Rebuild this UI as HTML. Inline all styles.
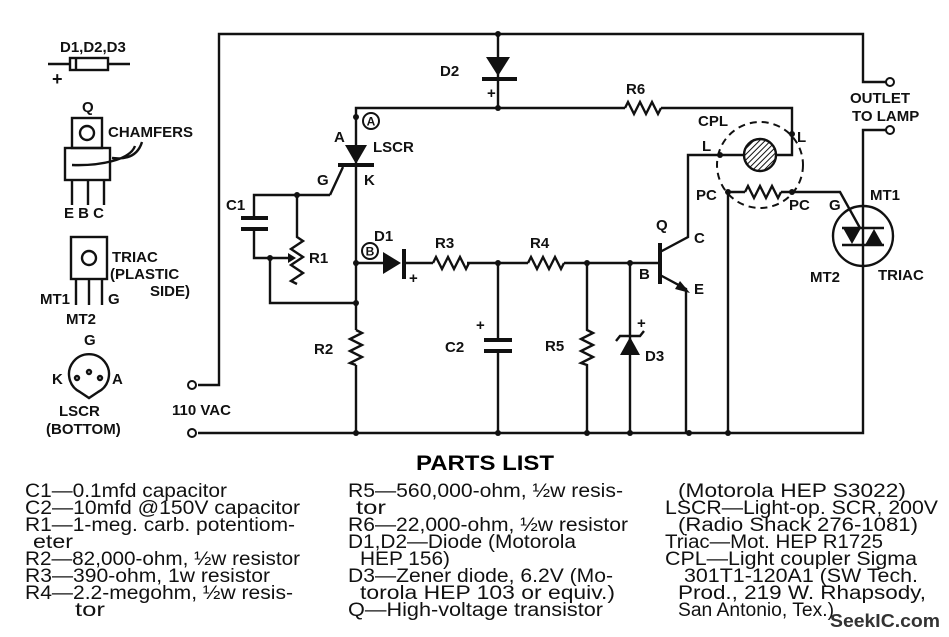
<!DOCTYPE html>
<html><head><meta charset="utf-8"><style>
html,body{margin:0;padding:0;background:#fff;}
svg{display:block;}
.w{fill:none;stroke:#111;stroke-width:2.4;stroke-linejoin:miter}
.l{font-family:"Liberation Sans",sans-serif;font-weight:bold;font-size:15px;fill:#111}
.p{font-family:"Liberation Sans",sans-serif;font-size:19px;fill:#111}
</style></head><body>
<svg width="949" height="637" viewBox="0 0 949 637" xmlns="http://www.w3.org/2000/svg">
<defs>
<pattern id="h" width="4" height="4" patternUnits="userSpaceOnUse" patternTransform="rotate(45)"><rect width="4" height="4" fill="#fff"/><line x1="0" y1="0" x2="0" y2="4" stroke="#111" stroke-width="2"/></pattern>
</defs>
<g class="w">
<path d="M198,385 H219 V34 H863 V82 H886"/>
<path d="M198,433 H863 V130 H886"/>
<path d="M498,34 V108"/>
<path d="M356,433 V365 M356,330 V108 H625 M661,108 H792 V155 H776"/>
<path d="M625,108 l3,-6 l6,12 l6,-12 l6,12 l6,-12 l6,12 l3,-6"/>
<path d="M330,195 L343,167 M330,195 H254 V218 M254,229 V258 H270 V303 H356"/>
<path d="M270,258 H288"/>
<path d="M297,195 V237 l6,4 l-12,8 l12,8 l-12,8 l12,8 l-12,8 l6,3"/>
<path d="M356,330 l6,3 l-12,6 l12,6 l-12,6 l12,6 l-12,6 l6,2"/>
<path d="M356,263 H383 M404,263 H433 M467,263 H528 M564,263 H660"/>
<path d="M433,263 l3,-6 l6,12 l6,-12 l6,12 l6,-12 l6,12 l3,-6"/>
<path d="M528,263 l3,-6 l6,12 l6,-12 l6,12 l6,-12 l6,12 l3,-6"/>
<path d="M498,263 V340 M498,351 V433"/>
<path d="M587,263 V330 l6,3 l-12,6 l12,6 l-12,6 l12,6 l-12,6 l6,2 V433"/>
<path d="M630,263 V433 M616,341 l4,-5 H640 l4,-5"/>
<path d="M660,252 L688,237 V155 H744 M660,275 L686,289 V433"/>
<path d="M728,433 V192 H745 M781,192 H840 L860,228"/>
<path d="M745,192 l3,-6 l6,12 l6,-12 l6,12 l6,-12 l6,12 l3,-6"/>
<circle cx="863" cy="236" r="30"/>
<path d="M842,228 H884 M842,245 H884"/>
</g>
<g fill="#111">
<polygon points="486,57 510,57 498,76"/>
<rect x="482" y="77" width="35" height="4"/>
<polygon points="345,145 367,145 356,164"/>
<rect x="338" y="163" width="36" height="4"/>
<polygon points="383,252 383,274 401,263"/>
<rect x="402" y="249" width="4" height="30"/>
<rect x="241" y="216" width="27" height="4"/>
<rect x="241" y="227" width="27" height="4"/>
<rect x="484" y="338" width="28" height="4"/>
<rect x="484" y="349" width="28" height="4"/>
<polygon points="620,355 640,355 630,337"/>
<rect x="658" y="243" width="4" height="41"/>
<polygon points="675,289 690,293 680,281"/>
<polygon points="288,253 288,263 296,258"/>
<polygon points="843,228 861,228 852,244"/>
<polygon points="865,245 883,245 874,229"/>
<circle cx="356" cy="117" r="3"/><circle cx="356" cy="263" r="3"/><circle cx="356" cy="303" r="3"/>
<circle cx="356" cy="433" r="3"/><circle cx="498" cy="108" r="3"/><circle cx="498" cy="34" r="3"/>
<circle cx="297" cy="195" r="3"/><circle cx="270" cy="258" r="3"/>
<circle cx="498" cy="263" r="3"/><circle cx="587" cy="263" r="3"/><circle cx="630" cy="263" r="3"/>
<circle cx="498" cy="433" r="3"/><circle cx="587" cy="433" r="3"/><circle cx="630" cy="433" r="3"/>
<circle cx="689" cy="433" r="3"/><circle cx="728" cy="433" r="3"/>
<circle cx="720" cy="155" r="3"/><circle cx="792" cy="134" r="3"/><circle cx="728" cy="192" r="3"/><circle cx="792" cy="192" r="3"/>
</g>
<g fill="#fff" stroke="#111" stroke-width="2">
<circle cx="192" cy="385" r="4"/><circle cx="192" cy="433" r="4"/>
<circle cx="890" cy="82" r="4"/><circle cx="890" cy="130" r="4"/>
<circle cx="760" cy="165" r="43" fill="none" stroke-dasharray="7,5"/>
<circle cx="760" cy="155" r="16" fill="url(#h)" stroke-width="2.4"/>
<circle cx="371" cy="121" r="8"/><circle cx="370" cy="251" r="8"/>
</g>
<g class="l">
<text x="371" y="125.5" font-size="12" text-anchor="middle">A</text>
<text x="370" y="255.5" font-size="12" text-anchor="middle">B</text>
<text x="440" y="76">D2</text><text x="487" y="98">+</text>
<text x="334" y="142">A</text><text x="373" y="152">LSCR</text>
<text x="317" y="185">G</text><text x="364" y="185">K</text>
<text x="226" y="210">C1</text><text x="309" y="263">R1</text>
<text x="314" y="354">R2</text>
<text x="374" y="241">D1</text><text x="409" y="283">+</text>
<text x="435" y="248">R3</text><text x="530" y="248">R4</text>
<text x="626" y="94">R6</text>
<text x="476" y="330">+</text><text x="445" y="352">C2</text>
<text x="545" y="351">R5</text><text x="637" y="328">+</text><text x="645" y="361">D3</text>
<text x="656" y="230">Q</text><text x="694" y="243">C</text><text x="639" y="279">B</text><text x="694" y="294">E</text>
<text x="698" y="126">CPL</text><text x="702" y="151">L</text><text x="797" y="142">L</text>
<text x="696" y="200">PC</text><text x="789" y="210">PC</text>
<text x="829" y="210">G</text><text x="870" y="200">MT1</text><text x="810" y="282">MT2</text><text x="878" y="280">TRIAC</text>
<text x="850" y="103">OUTLET</text><text x="852" y="121">TO LAMP</text>
<text x="172" y="415">110 VAC</text>
</g>
<g class="w" stroke-width="2">
<path d="M48,64 H70 M108,64 H130"/><rect x="70" y="58" width="38" height="12"/><path d="M76,58 V70"/>
<rect x="72" y="118" width="30" height="30"/><circle cx="87" cy="133" r="7"/>
<rect x="65" y="148" width="45" height="32"/>
<path d="M72,180 V205 M88,180 V205 M104,180 V205"/>
<path d="M142,142 C138,155 128,160 112,158 M135,146 C130,160 100,166 72,165"/>
<rect x="71" y="237" width="36" height="42"/><circle cx="89" cy="258" r="7"/>
<path d="M76,279 V305 M89,279 V305 M102,279 V305"/>
<path d="M80,392 A20,20 0 1 1 98,392 L89,398 Z"/><circle cx="89" cy="372" r="2"/><circle cx="77" cy="378" r="2"/><circle cx="100" cy="378" r="2"/>
</g>
<g class="l" font-size="16">
<text x="60" y="52">D1,D2,D3</text><text x="52" y="85" font-size="18">+</text>
<text x="82" y="112">Q</text><text x="108" y="137">CHAMFERS</text>
<text x="64" y="218">E B C</text>
<text x="112" y="262">TRIAC</text><text x="110" y="279">(PLASTIC</text><text x="150" y="296">SIDE)</text>
<text x="40" y="304">MT1</text><text x="108" y="304">G</text><text x="66" y="324">MT2</text>
<text x="84" y="345">G</text><text x="52" y="384">K</text><text x="112" y="384">A</text>
<text x="59" y="416">LSCR</text><text x="46" y="434">(BOTTOM)</text>
</g>
<text x="485" y="470" text-anchor="middle" font-family="Liberation Sans,sans-serif" font-weight="bold" font-size="21" textLength="138" lengthAdjust="spacingAndGlyphs">PARTS LIST</text>
<g class="p">
<text x="25" y="497" textLength="202" lengthAdjust="spacingAndGlyphs">C1—0.1mfd capacitor</text>
<text x="25" y="514" textLength="275" lengthAdjust="spacingAndGlyphs">C2—10mfd @150V capacitor</text>
<text x="25" y="531" textLength="270" lengthAdjust="spacingAndGlyphs">R1—1-meg. carb. potentiom-</text>
<text x="33" y="548" textLength="40" lengthAdjust="spacingAndGlyphs">eter</text>
<text x="25" y="565" textLength="275" lengthAdjust="spacingAndGlyphs">R2—82,000-ohm, ½w resistor</text>
<text x="25" y="582" textLength="245" lengthAdjust="spacingAndGlyphs">R3—390-ohm, 1w resistor</text>
<text x="25" y="599" textLength="268" lengthAdjust="spacingAndGlyphs">R4—2.2-megohm, ½w resis-</text>
<text x="75" y="616" textLength="30" lengthAdjust="spacingAndGlyphs">tor</text>
<text x="348" y="497" textLength="275" lengthAdjust="spacingAndGlyphs">R5—560,000-ohm, ½w resis-</text>
<text x="356" y="514" textLength="30" lengthAdjust="spacingAndGlyphs">tor</text>
<text x="348" y="531" textLength="280" lengthAdjust="spacingAndGlyphs">R6—22,000-ohm, ½w resistor</text>
<text x="348" y="548" textLength="228" lengthAdjust="spacingAndGlyphs">D1,D2—Diode (Motorola</text>
<text x="360" y="565" textLength="90" lengthAdjust="spacingAndGlyphs">HEP 156)</text>
<text x="348" y="582" textLength="265" lengthAdjust="spacingAndGlyphs">D3—Zener diode, 6.2V (Mo-</text>
<text x="360" y="599" textLength="255" lengthAdjust="spacingAndGlyphs">torola HEP 103 or equiv.)</text>
<text x="348" y="616" textLength="255" lengthAdjust="spacingAndGlyphs">Q—High-voltage transistor</text>
<text x="678" y="497" textLength="228" lengthAdjust="spacingAndGlyphs">(Motorola HEP S3022)</text>
<text x="665" y="514" textLength="273" lengthAdjust="spacingAndGlyphs">LSCR—Light-op. SCR, 200V</text>
<text x="678" y="531" textLength="240" lengthAdjust="spacingAndGlyphs">(Radio Shack 276-1081)</text>
<text x="665" y="548" textLength="218" lengthAdjust="spacingAndGlyphs">Triac—Mot. HEP R1725</text>
<text x="665" y="565" textLength="252" lengthAdjust="spacingAndGlyphs">CPL—Light coupler Sigma</text>
<text x="684" y="582" textLength="234" lengthAdjust="spacingAndGlyphs">301T1-120A1 (SW Tech.</text>
<text x="678" y="599" textLength="248" lengthAdjust="spacingAndGlyphs">Prod., 219 W. Rhapsody,</text>
<text x="678" y="616" textLength="156" lengthAdjust="spacingAndGlyphs">San Antonio, Tex.)</text>
</g>
<text x="830" y="627" font-family="Liberation Sans,sans-serif" font-weight="bold" font-size="18" fill="#333" textLength="110" lengthAdjust="spacingAndGlyphs">SeekIC.com</text>
</svg>
</body></html>
